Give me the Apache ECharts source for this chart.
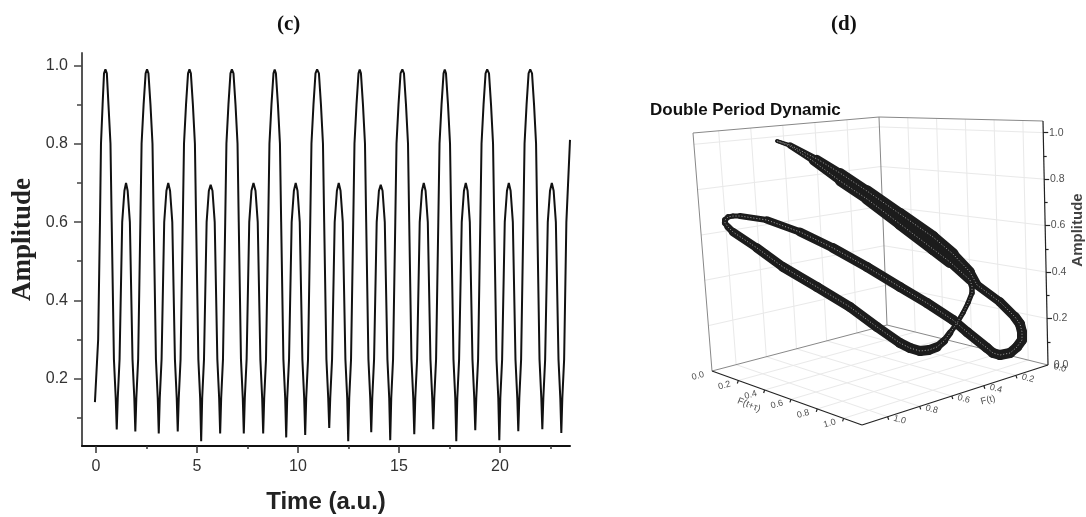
<!DOCTYPE html>
<html><head><meta charset="utf-8">
<style>html,body{margin:0;padding:0;background:#fff}#c{width:1086px;height:517px}</style>
<script src="https://cdn.jsdelivr.net/npm/echarts@6/dist/echarts.min.js"></script>
</head><body><div id="c"></div>
<script>
// ---- panel (c): time trace
const timeValues = [
-.05,.11,.2,.25,.33,.4,.47,.54,.62,.72,.78,.89,.98,1.03,
1.08,1.17,1.30,1.41,1.49,1.57,1.68,1.81,1.90,1.95,
2.00,2.09,2.2,2.26,2.36,2.46,2.53,2.60,2.70,2.80,2.86,2.97,3.06,3.11,
3.16,3.25,3.38,3.49,3.58,3.67,3.78,3.91,4.00,4.05,
4.10,4.19,4.30,4.36,4.46,4.56,4.63,4.70,4.80,4.90,4.96,5.07,5.16,5.21,
5.26,5.35,5.48,5.59,5.68,5.77,5.88,6.01,6.10,6.15,
6.20,6.29,6.40,6.46,6.56,6.66,6.73,6.81,6.91,7.01,7.07,7.18,7.27,7.32,
7.37,7.46,7.59,7.70,7.80,7.90,8.01,8.14,8.23,8.28,
8.33,8.42,8.53,8.59,8.69,8.79,8.85,8.91,9.01,9.11,9.17,9.28,9.37,9.42,
9.47,9.56,9.69,9.80,9.89,9.98,10.09,10.22,10.31,10.36,
10.41,10.50,10.61,10.67,10.77,10.87,10.95,11.04,11.14,11.24,11.30,11.41,11.50,11.55,
11.60,11.69,11.82,11.93,12.02,12.11,12.22,12.35,12.44,12.49,
12.54,12.63,12.74,12.80,12.90,13.00,13.06,13.12,13.22,13.32,13.38,13.49,13.58,13.63,
13.68,13.77,13.90,14.01,14.10,14.19,14.30,14.43,14.52,14.57,
14.62,14.71,14.82,14.88,14.98,15.08,15.17,15.25,15.35,15.45,15.51,15.62,15.71,15.76,
15.81,15.90,16.03,16.14,16.23,16.32,16.43,16.56,16.65,16.70,
16.75,16.84,16.95,17.01,17.11,17.21,17.27,17.33,17.43,17.53,17.59,17.70,17.79,17.84,
17.89,17.98,18.11,18.22,18.31,18.40,18.51,18.64,18.73,18.78,
18.83,18.92,19.03,19.09,19.19,19.29,19.37,19.46,19.56,19.66,19.72,19.83,19.92,19.97,
20.02,20.11,20.24,20.35,20.44,20.53,20.64,20.77,20.86,20.91,
20.96,21.05,21.16,21.22,21.32,21.42,21.50,21.59,21.69,21.79,21.85,21.96,22.05,22.10,
22.15,22.24,22.37,22.48,22.57,22.66,22.77,22.90,22.99,23.04,
23.09,23.18,23.29,23.47];
const ampValues = [
.14,.3,.6,.8,.9,.98,.99,.98,.9,.8,.6,.25,.15,.07,
.15,.25,.6,.68,.70,.68,.6,.25,.15,.065,
.15,.25,.6,.8,.9,.98,.99,.98,.9,.8,.6,.25,.15,.06,
.15,.25,.6,.68,.70,.68,.6,.25,.15,.065,
.15,.25,.6,.8,.9,.98,.99,.98,.9,.8,.6,.25,.15,.04,
.15,.25,.6,.68,.695,.68,.6,.25,.15,.06,
.15,.25,.6,.8,.9,.98,.99,.98,.9,.8,.6,.25,.15,.06,
.15,.25,.6,.68,.70,.68,.6,.25,.15,.06,
.15,.25,.6,.8,.9,.98,.99,.98,.9,.8,.6,.25,.15,.05,
.15,.25,.6,.68,.70,.68,.6,.25,.15,.056,
.15,.25,.6,.8,.9,.98,.99,.98,.9,.8,.6,.25,.15,.074,
.15,.25,.6,.68,.70,.68,.6,.25,.15,.04,
.15,.25,.6,.8,.9,.98,.99,.98,.9,.8,.6,.25,.15,.063,
.15,.25,.6,.68,.695,.68,.6,.25,.15,.043,
.15,.25,.6,.8,.9,.98,.99,.98,.9,.8,.6,.25,.15,.058,
.15,.25,.6,.68,.70,.68,.6,.25,.15,.071,
.15,.25,.6,.8,.9,.98,.99,.98,.9,.8,.6,.25,.15,.04,
.15,.25,.6,.68,.70,.68,.6,.25,.15,.068,
.15,.25,.6,.8,.9,.98,.99,.98,.9,.8,.6,.25,.15,.043,
.15,.25,.6,.68,.70,.68,.6,.25,.15,.066,
.15,.25,.6,.8,.9,.98,.99,.98,.9,.8,.6,.25,.15,.071,
.15,.25,.6,.68,.70,.68,.6,.25,.15,.061,
.15,.25,.6,.81];
const timeMajor = [0,5,10,15,20];
const timeMinor = [2.5,7.5,12.5,17.5,22.5];
const ampMajor = [.2,.4,.6,.8,1];
const ampMinor = [.1,.3,.5,.7,.9];

// ---- panel (d): loop read in the picture's view plane (horizontal, vertical, band thickness)
const loopH = [777,790,817,840,867,900,933,953,970,977,1000,1015,1020,1022,1022,1017,1010,1000,993,987,967,953,927,900,867,833,800,767,740,733,728,725,725,728,733,757,783,817,850,877,900,910,920,929,937,944,950,957,963,968,972,972,970,950,933,900,867,840,813,790,777];
const loopV = [141,145,159,173,191,214,237,254,272,285,302,317,324,332,340,347,353,355,353,348,332,320,303,287,267,248,232,220,216,216,217,220,223,227,232,248,267,287,307,327,343,348,351,350,347,341,333,323,313,303,293,286,280,262,249,224,199,181,161,146,141];
const loopW = [3,4,7,9,11,12,12,11,9,9,9,10,10,10,10,10,10,10,10,10,10,10,10,10,10,10,8,7,5,5,5,6,6,6,8,9,10,10,10,10,10,10,10,10,9,7,6,5,5,5,5,6,7,12,12,12,11,9,7,4,3];
const gridTicks = [.2,.4,.6,.8,1];
const floorLabels = ['0.0','0.2','0.4','0.6','0.8','1.0'];
const cornerBack = [887,325], cornerLeft = [712,371], cornerRight = [1048,365], cornerFront = [862,425];
const topBack = [879,117], topLeft = [693,133], topRight = [1043,121];
const floorMaxU = 1.14, floorMaxV = 1.16, wallMaxA = 1.05;

const lerp = (p,q,s)=>[p[0]+(q[0]-p[0])*s,p[1]+(q[1]-p[1])*s];
function floor(u,v){const s=u/floorMaxU,r=v/floorMaxV;return lerp(lerp(cornerBack,cornerLeft,r),lerp(cornerRight,cornerFront,r),s);}
function leftWall(v,a){return lerp(lerp(cornerBack,cornerLeft,v/floorMaxV),lerp(topBack,topLeft,v/floorMaxV),a/wallMaxA);}
function rightWall(u,a){return lerp(lerp(cornerBack,cornerRight,u/floorMaxU),lerp(topBack,topRight,u/floorMaxU),a/wallMaxA);}
const seg=(p,q)=>({coords:[p,q]});

const gridSegs=[];
gridTicks.forEach(t=>{
  gridSegs.push(seg(floor(t,0),floor(t,floorMaxV)),seg(floor(0,t),floor(floorMaxU,t)));
  gridSegs.push(seg(leftWall(t,0),leftWall(t,wallMaxA)),seg(rightWall(t,0),rightWall(t,wallMaxA)));
  gridSegs.push(seg(leftWall(0,t),leftWall(floorMaxV,t)),seg(rightWall(0,t),rightWall(floorMaxU,t)));
});
const frameSegs=[seg(cornerLeft,cornerBack),seg(cornerBack,cornerRight),seg(cornerLeft,topLeft),seg(topLeft,topBack),seg(topBack,topRight),seg(cornerBack,topBack)];
const ampAt=a=>lerp(cornerRight,topRight,a/wallMaxA);
const axisSegs=[seg(cornerLeft,cornerFront),seg(cornerFront,cornerRight),seg(cornerRight,topRight)];
const tickSegs=[];
gridTicks.forEach(t=>{
  tickSegs.push(seg(floor(t,floorMaxV),[floor(t,floorMaxV)[0]-1,floor(t,floorMaxV)[1]+3]));
  tickSegs.push(seg(floor(floorMaxU,t),[floor(floorMaxU,t)[0]+1,floor(floorMaxU,t)[1]+3]));
  const p=ampAt(t);tickSegs.push(seg(p,[p[0]+5,p[1]]));
  const m=ampAt(t-.1);tickSegs.push(seg(m,[m[0]+3,m[1]]));
});
const lab=(p,text,rot,dx,dy,size)=>({value:[p[0]+dx,p[1]+dy],label:{show:true,position:'inside',formatter:text,rotate:rot,fontSize:size,color:'#222',fontFamily:'Liberation Sans'}});
const labels3d=[];
floorLabels.forEach(t=>{
  labels3d.push(lab(floor(+t,floorMaxV),t,15,-14,5,9));
  labels3d.push(lab(floor(floorMaxU,+t),t,-15,12,3,9));
});
['0.0','0.2','0.4','0.6','0.8','1.0'].forEach(t=>labels3d.push(lab(ampAt(+t),t,0,13,0,10.5)));
labels3d.push(lab([749,405],'F(t+τ)',-22,0,0,9.5));
labels3d.push(lab([988,400],'F(t)',15,0,0,9.5));

const bandData=loopH.map((h,i)=>[h,loopV[i],loopW[i]]);
const hidden={show:false,type:'value'};

const chart=echarts.init(document.getElementById('c'),null,{renderer:'canvas'});
const axisFont={fontFamily:'Liberation Sans',fontSize:16,color:'#333'};
const common={type:'value',splitLine:{show:false},scale:false};
const rich={r:{fontFamily:'Liberation Serif',fontSize:21,color:'#111'},b:{fontFamily:'Liberation Serif',fontSize:21,fontWeight:'bold',color:'#111'}};
chart.setOption({
  animation:false,
  backgroundColor:'#fff',
  title:[
    {text:'{r|(}{b|c}{r|)}',left:272,top:9,textStyle:{rich}},
    {text:'{r|(}{b|d}{r|)}',left:826,top:9,textStyle:{rich}},
    {text:'Double Period Dynamic',left:645,top:97,textStyle:{fontFamily:'Liberation Sans',fontSize:17,fontWeight:'bold',color:'#111'}}
  ],
  grid:[
    {left:82,top:53,width:488,height:393,outerBoundsMode:'none'},
    {left:0,top:0,width:1086,height:517,outerBoundsMode:'none'}
  ],
  xAxis:[
    {...common,gridIndex:0,min:-.69,max:23.47,position:'bottom',
     name:'Time (a.u.)',nameLocation:'middle',nameGap:44,
     nameTextStyle:{fontFamily:'Liberation Sans',fontSize:24,fontWeight:'bold',color:'#222'},
     axisLine:{show:true,onZero:false,lineStyle:{color:'#111',width:2}},
     axisTick:{show:true,length:7,customValues:timeMajor,lineStyle:{color:'#333',width:1.5}},
     axisLabel:{show:true,margin:13,customValues:timeMajor,...axisFont}},
    {...common,gridIndex:0,min:-.69,max:23.47,position:'bottom',
     axisLine:{show:false,onZero:false},axisTick:{show:true,length:3,customValues:timeMinor,lineStyle:{color:'#333',width:1.5}},axisLabel:{show:false}},
    {...hidden,gridIndex:1,min:0,max:1086}
  ],
  yAxis:[
    {...common,gridIndex:0,min:.028,max:1.032,position:'left',
     name:'Amplitude',nameLocation:'middle',nameGap:45,nameRotate:90,
     nameTextStyle:{fontFamily:'Liberation Serif',fontSize:27,fontWeight:'bold',color:'#222',padding:[0,0,0,20]},
     axisLine:{show:true,onZero:false,lineStyle:{color:'#555',width:2}},
     axisTick:{show:true,length:8,customValues:ampMajor,lineStyle:{color:'#444',width:1.5}},
     axisLabel:{show:true,margin:14,customValues:ampMajor,formatter:v=>v.toFixed(1),...axisFont}},
    {...common,gridIndex:0,min:.028,max:1.032,position:'left',
     axisLine:{show:false,onZero:false},axisTick:{show:true,length:5,customValues:ampMinor,lineStyle:{color:'#444',width:1.5}},axisLabel:{show:false}},
    {...hidden,gridIndex:1,min:0,max:517,inverse:true}
  ],
  series:[
    {type:'line',xAxisIndex:0,yAxisIndex:0,data:timeValues.map((t,i)=>[t,ampValues[i]]),showSymbol:false,symbol:'none',
     lineStyle:{color:'#111',width:2},clip:true,silent:true},
    {type:'lines',coordinateSystem:'cartesian2d',xAxisIndex:2,yAxisIndex:2,data:gridSegs,lineStyle:{color:'#e9e9e9',width:1,opacity:1},silent:true,z:1},
    {type:'lines',coordinateSystem:'cartesian2d',xAxisIndex:2,yAxisIndex:2,data:frameSegs,lineStyle:{color:'#888',width:1,opacity:1},silent:true,z:2},
    {type:'lines',coordinateSystem:'cartesian2d',xAxisIndex:2,yAxisIndex:2,data:axisSegs.concat(tickSegs),lineStyle:{color:'#222',width:1.2,opacity:1},silent:true,z:3},
    {type:'custom',coordinateSystem:'cartesian2d',xAxisIndex:2,yAxisIndex:2,data:bandData,z:4,silent:true,clip:false,
     encode:{x:0,y:1},
     renderItem:(params,api)=>{
       const i=params.dataIndex;
       if(i+1>=bandData.length) return null;
       const a=api.coord([api.value(0),api.value(1)]);
       const n=bandData[i+1];
       const b=api.coord([n[0],n[1]]);
       return {type:'line',shape:{x1:a[0],y1:a[1],x2:b[0],y2:b[1]},style:{stroke:'#1c1c1c',fill:null,lineWidth:(api.value(2)+n[2])/2,lineCap:'round'}};
     }},
    {type:'line',xAxisIndex:2,yAxisIndex:2,data:loopH.map((h,i)=>[h,loopV[i]]),symbol:'none',z:5,silent:true,
     lineStyle:{color:'rgba(255,255,255,.6)',width:1,type:[1,2]}},
    {type:'scatter',xAxisIndex:2,yAxisIndex:2,data:labels3d,symbolSize:0,silent:true,z:6},
    {type:'scatter',xAxisIndex:2,yAxisIndex:2,symbolSize:0,silent:true,z:6,
     data:[{value:[1078,230],label:{show:true,position:'inside',formatter:'Amplitude',rotate:90,fontFamily:'Liberation Sans',fontWeight:'bold',fontSize:15,color:'#111'}}]}
  ]
});
</script></body></html>
